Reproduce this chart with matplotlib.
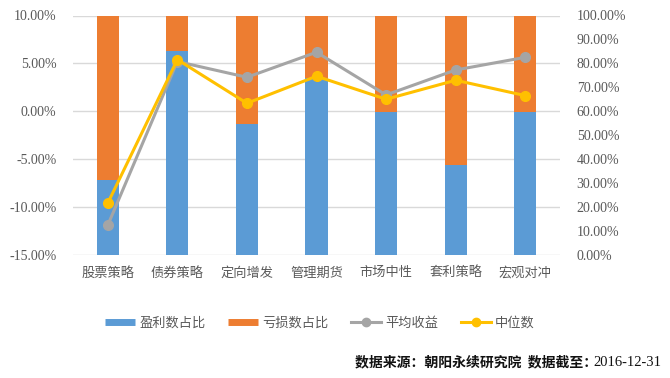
import numpy as np
import matplotlib
matplotlib.use('Agg')
import matplotlib.pyplot as plt
from matplotlib.lines import Line2D
from matplotlib import font_manager

plt.rcParams['font.family'] = ['Liberation Serif', 'Noto Sans CJK SC']
plt.rcParams['axes.unicode_minus'] = False

# data
categories = ['股票策略', '债券策略', '定向增发', '管理期货', '市场中性', '套利策略', '宏观对冲']
win_ratio = [31.3, 85.1, 54.8, 74.0, 59.9, 37.6, 59.9]          # 盈利数占比 (%)
loss_ratio = [100 - v for v in win_ratio]                          # 亏损数占比 (%)
avg_return = [-11.86, 5.2, 3.56, 6.17, 1.72, 4.32, 5.64]           # 平均收益 (%)
median_return = [-9.56, 5.4, 0.85, 3.67, 1.27, 3.25, 1.65]         # 中位数 (%)

blue = '#5B9BD5'
orange = '#ED7D31'
gray = '#A5A5A5'
yellow = '#FFC000'
text_color = '#595959'

serif = font_manager.FontProperties(family='Liberation Serif', size=10)

fig = plt.figure(figsize=(6.7, 3.78), dpi=100)
ax = fig.add_axes([73 / 670, 1 - 255.3 / 378, (560 - 73) / 670, (255.3 - 15.5) / 378])
ax2 = ax.twinx()

x = np.arange(len(categories))

# bars on the right axis
ax2.bar(x, win_ratio, width=0.32, color=blue, zorder=2)
ax2.bar(x, loss_ratio, width=0.32, bottom=win_ratio, color=orange, zorder=2)
ax2.set_ylim(0, 100)
right_ticks = np.arange(0, 101, 10)
ax2.set_yticks(right_ticks)
ax2.set_yticklabels(['%.2f%%' % v for v in right_ticks], fontproperties=serif)
for g in np.arange(0, 101, 20):
    ax2.axhline(g, color='#D9D9D9', lw=1, zorder=1)

# lines on the left axis
ax.plot(x, avg_return, color=gray, lw=2.2, marker='o', ms=7, zorder=3)
ax.plot(x, median_return, color=yellow, lw=2.2, marker='o', ms=7, zorder=4)
ax.set_ylim(-15, 10)
left_ticks = np.arange(-15, 10.1, 5)
ax.set_yticks(left_ticks)
ax.set_yticklabels(['%.2f%%' % v for v in left_ticks], fontproperties=serif)
ax.set_xlim(-0.5, len(categories) - 0.5)
ax.set_xticks(x)
ax.set_xticklabels(categories, fontsize=9.5, color=text_color, family=['Noto Sans CJK SC'])

ax.set_zorder(ax2.get_zorder() + 1)
ax.patch.set_visible(False)

for a in (ax, ax2):
    for s in a.spines.values():
        s.set_visible(False)
    a.tick_params(length=0, labelcolor=text_color)
ax.tick_params(axis='y', pad=12)
ax.tick_params(axis='x', pad=8)
ax2.tick_params(axis='y', pad=12)

handles = [
    Line2D([], [], color=blue, lw=5, solid_capstyle='butt'),
    Line2D([], [], color=orange, lw=5, solid_capstyle='butt'),
    Line2D([], [], color=gray, lw=2.2, marker='o', ms=6),
    Line2D([], [], color=yellow, lw=2.2, marker='o', ms=6),
]
labels = ['盈利数占比', '亏损数占比', '平均收益', '中位数']
leg = fig.legend(handles, labels, loc='center', bbox_to_anchor=(320 / 670, 1 - 323 / 378),
                 ncol=4, frameon=False, handlelength=2.3,
                 handletextpad=0.3, columnspacing=1.7,
                 prop={'family': ['Noto Sans CJK SC'], 'size': 9.5})
for t in leg.get_texts():
    t.set_color(text_color)

# source note: CJK part bold, date in serif
fig.text(661 / 670, 1 - 362 / 378, '2016-12-31', ha='right', va='center',
         fontsize=10.5, family='Liberation Serif', color='#111111')
fig.text(597 / 670, 1 - 362 / 378, '数据来源：朝阳永续研究院  数据截至：',
         ha='right', va='center', fontsize=10, fontweight='bold',
         family=['Noto Sans CJK SC'], color='#111111')

fig.savefig('out.png', dpi=100)
